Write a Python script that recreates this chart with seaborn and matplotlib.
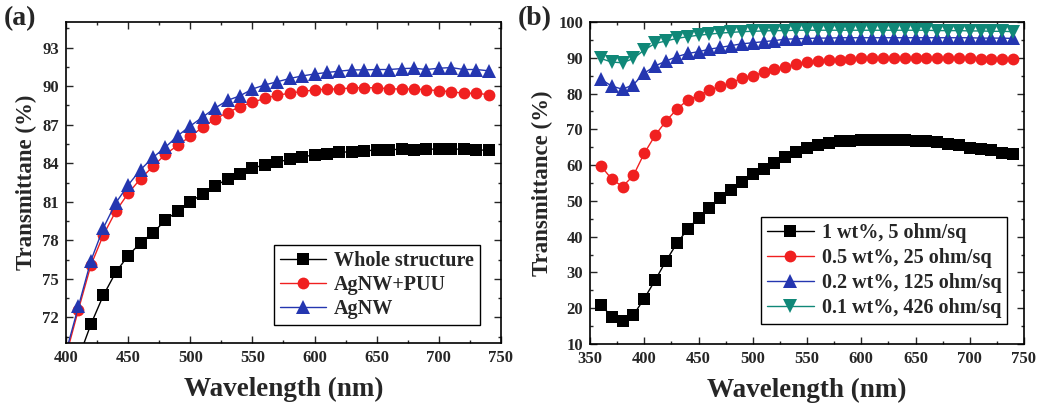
import numpy as np
import pandas as pd
import seaborn as sns
import matplotlib

matplotlib.use("Agg")
import matplotlib.pyplot as plt
from matplotlib.ticker import MultipleLocator, AutoMinorLocator

# panel (a) data
wl_a = list(range(400, 750, 10))
whole_structure = [65.5, 68.8, 71.45, 73.7, 75.5, 76.8, 77.8, 78.6, 79.55, 80.3,
                   81.0, 81.6, 82.2, 82.8, 83.2, 83.6, 83.9, 84.1, 84.3, 84.5,
                   84.65, 84.75, 84.85, 84.9, 84.95, 85.05, 85.05, 85.1, 85.05, 85.1,
                   85.1, 85.1, 85.1, 85.05, 85.0]
agnw_puu = [69.0, 72.6, 76.05, 78.4, 80.25, 81.65, 82.8, 83.75, 84.7, 85.4,
            86.1, 86.8, 87.45, 87.95, 88.4, 88.75, 89.05, 89.3, 89.45, 89.6,
            89.7, 89.78, 89.78, 89.88, 89.88, 89.88, 89.8, 89.78, 89.78, 89.73,
            89.65, 89.57, 89.45, 89.45, 89.34]
agnw = [69.3, 72.85, 76.4, 78.95, 80.9, 82.3, 83.5, 84.45, 85.25, 86.15,
        86.9, 87.6, 88.3, 88.9, 89.25, 89.78, 90.1, 90.35, 90.6, 90.8,
        90.95, 91.07, 91.17, 91.27, 91.27, 91.3, 91.3, 91.37, 91.4, 91.3,
        91.4, 91.45, 91.3, 91.3, 91.2]
labels_a = ["Whole structure", "AgNW+PUU", "AgNW"]

# panel (b) data
wl_b = list(range(360, 750, 10))
wt_1 = [21.0, 17.6, 16.4, 18.1, 22.7, 27.8, 33.2, 38.1, 42.1, 45.3,
        48.0, 50.7, 53.0, 55.4, 57.6, 59.0, 60.7, 62.3, 63.6, 64.8,
        65.6, 66.1, 66.8, 66.8, 67.1, 67.1, 67.1, 67.1, 67.1, 66.8,
        66.8, 66.4, 65.8, 65.6, 64.9, 64.5, 64.2, 63.5, 63.0]
wt_05 = [59.8, 56.1, 54.0, 57.1, 63.3, 68.3, 72.3, 75.6, 78.2, 79.4,
         81.0, 82.0, 83.0, 84.3, 85.0, 85.9, 86.8, 87.5, 88.2, 88.8,
         89.1, 89.4, 89.5, 89.7, 89.8, 89.85, 89.9, 89.9, 89.9, 89.9,
         89.9, 89.9, 89.9, 89.85, 89.8, 89.7, 89.7, 89.6, 89.6]
wt_02 = [84.0, 82.1, 81.2, 82.5, 85.7, 87.7, 89.1, 90.3, 91.2, 91.7,
         92.4, 92.9, 93.4, 93.9, 94.2, 94.5, 94.8, 95.2, 95.3, 95.4,
         95.5, 95.5, 95.6, 95.6, 95.6, 95.6, 95.6, 95.6, 95.6, 95.6,
         95.6, 95.6, 95.6, 95.6, 95.6, 95.5, 95.5, 95.5, 95.4]
wt_01 = [89.8, 88.8, 88.6, 89.8, 92.2, 94.0, 94.7, 95.4, 95.9, 96.3,
         96.6, 96.9, 97.1, 97.3, 97.4, 97.5, 97.6, 97.6, 97.7, 97.7,
         97.7, 97.7, 97.7, 97.7, 97.7, 97.7, 97.7, 97.7, 97.7, 97.7,
         97.7, 97.6, 97.6, 97.6, 97.5, 97.5, 97.4, 97.4, 97.3]
labels_b = ["1 wt%, 5 ohm/sq", "0.5 wt%, 25 ohm/sq",
            "0.2 wt%, 125 ohm/sq", "0.1 wt%, 426 ohm/sq"]

colors = ["black", "#f02020", "#2436b0", "#108878"]
markers = ["s", "o", "^", "v"]
msizes = [8, 8.5, 10.5, 10.5]

sns.set_theme(style="ticks")
plt.rcParams["font.family"] = ["Liberation Serif", "DejaVu Serif"]
plt.rcParams["font.weight"] = "bold"
plt.rcParams["axes.labelweight"] = "bold"

fig = plt.figure(figsize=(10.42, 4.16), dpi=100)
W, H = 1042, 416
ax1 = fig.add_axes([66 / W, 1 - 343 / H, 435 / W, 321 / H])
ax2 = fig.add_axes([590 / W, 1 - 344 / H, 434 / W, 322 / H])

df_a = pd.DataFrame({"wl": wl_a * 3,
                     "T": whole_structure + agnw_puu + agnw,
                     "s": sum([[l] * len(wl_a) for l in labels_a], [])})
df_b = pd.DataFrame({"wl": wl_b * 4,
                     "T": wt_1 + wt_05 + wt_02 + wt_01,
                     "s": sum([[l] * len(wl_b) for l in labels_b], [])})

for ax, df, labs in [(ax1, df_a, labels_a), (ax2, df_b, labels_b)]:
    for i, lab in enumerate(labs):
        sns.lineplot(data=df[df["s"] == lab], x="wl", y="T", ax=ax,
                     color=colors[i], marker=markers[i], markersize=msizes[i],
                     markeredgewidth=0, linewidth=1.0, label=lab)

ax1.set_xlim(400, 750)
ax1.set_ylim(70, 95)
ax1.xaxis.set_major_locator(MultipleLocator(50))
ax1.set_yticks(range(72, 94, 3))
ax1.set_ylabel("Transmittane (%)", fontsize=16.5, labelpad=4)

ax2.set_xlim(350, 750)
ax2.set_ylim(10, 100)
ax2.xaxis.set_major_locator(MultipleLocator(50))
ax2.yaxis.set_major_locator(MultipleLocator(10))
ax2.set_ylabel("Transmittance (%)", fontsize=16.5, labelpad=4)

for ax in (ax1, ax2):
    ax.set_xlabel("Wavelength (nm)", fontsize=19.5, labelpad=8)
    ax.xaxis.set_minor_locator(AutoMinorLocator(2))
    ax.yaxis.set_minor_locator(AutoMinorLocator(2))
    ax.tick_params(which="both", direction="in", top=True, right=True,
                   width=1, labelsize=12, pad=5)
    ax.tick_params(which="major", length=5)
    ax.tick_params(which="minor", length=2.5)
    for sp in ax.spines.values():
        sp.set_visible(True)
        sp.set_linewidth(1.2)
        sp.set_color("black")
    for t in ax.get_xticklabels() + ax.get_yticklabels():
        t.set_fontweight("bold")

leg1 = ax1.legend(loc="lower right", bbox_to_anchor=(0.975, 0.025),
                  fontsize=14.5, frameon=True, fancybox=False, edgecolor="black",
                  framealpha=1, handlelength=2.3, labelspacing=0.2,
                  borderpad=0.3, handletextpad=0.4)
leg1.get_frame().set_linewidth(1.0)
leg2 = ax2.legend(loc="lower right", bbox_to_anchor=(0.985, 0.03),
                  fontsize=14.5, frameon=True, fancybox=False, edgecolor="black",
                  framealpha=1, handlelength=2.3, labelspacing=0.25,
                  borderpad=0.3, handletextpad=0.4)
leg2.get_frame().set_linewidth(1.0)

fig.text(0.004, 0.985, "(a)", fontsize=20, fontweight="bold", va="top")
fig.text(0.497, 0.985, "(b)", fontsize=20, fontweight="bold", va="top")

fig.savefig("out.png", dpi=100)
